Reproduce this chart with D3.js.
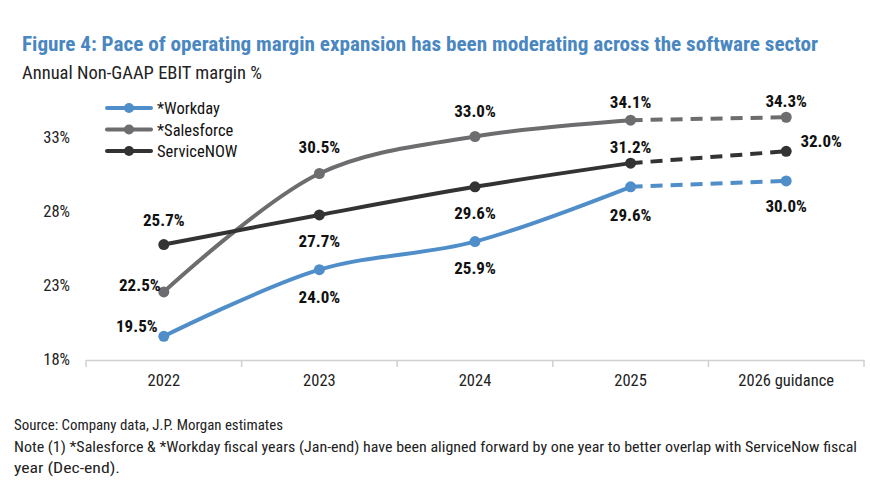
<!DOCTYPE html>
<html><head><meta charset="utf-8">
<script src="https://cdn.jsdelivr.net/npm/d3@7"></script>
<style>
body{margin:0;background:#fff;}
svg{font-family:"Liberation Sans Narrow","Arial Narrow","Roboto Condensed","Liberation Sans",sans-serif;}
</style></head><body>
<svg id="c" width="870" height="488"></svg>
<script>
const categories = ["2022","2023","2024","2025","2026 guidance"];
const workday = [19.5,24.0,25.9,29.6,30.0];
const salesforce = [22.5,30.5,33.0,34.1,34.3];
const servicenow = [25.7,27.7,29.6,31.2,32.0];
const yTicks = [18,23,28,33];
const seriesNames = ["*Workday","*Salesforce","ServiceNOW"];
const colors = ["#4f8ec9","#6d6d6f","#333333"];
// label placement: [dx, dy] relative to point (baseline)
const labelPos = [
  [[-27,-4],[0,33],[0,32],[0,34],[0,31]],
  [[-24,-1],[0,-21],[0,-20],[0,-12],[0,-10]],
  [[0,-19],[0,32],[0,32],[0,-10],[35,-4]]
];

const svg = d3.select("#c");
const x = d3.scaleBand().domain(categories).range([86,864]);
const y = d3.scaleLinear().domain([18,33]).range([358.5,136.5]);
const cx = d => x(d)+x.bandwidth()/2;

svg.append("text").attr("x",22).attr("y",51).attr("fill","#4a87c1")
  .attr("font-weight","bold").attr("font-size",21)
  .attr("textLength",796).attr("lengthAdjust","spacingAndGlyphs")
  .text("Figure 4: Pace of operating margin expansion has been moderating across the software sector");
svg.append("text").attr("x",22).attr("y",79).attr("fill","#222")
  .attr("font-size",17.5).attr("textLength",240).attr("lengthAdjust","spacingAndGlyphs")
  .text("Annual Non-GAAP EBIT margin %");

// y tick labels
svg.selectAll(".yt").data(yTicks).enter().append("text")
  .attr("x",70).attr("y",d=>y(d)+6).attr("text-anchor","end")
  .attr("font-size",16.5).attr("fill","#222").text(d=>d+"%");

// x axis
const xa = svg.append("g").attr("transform","translate(0,360)")
  .call(d3.axisBottom(x).tickSize(0).tickPadding(14));
xa.select(".domain").attr("stroke","#d0d0d0").attr("stroke-width",1.5);
xa.selectAll("text").attr("font-size",16.5).attr("fill","#222")
  .attr("font-family","Liberation Sans Narrow, Arial Narrow, Roboto Condensed, sans-serif");
const bounds = categories.map(c=>x(c)).concat([x.range()[1]]);
svg.selectAll(".xtk").data(bounds).enter().append("line")
  .attr("x1",d=>d).attr("x2",d=>d).attr("y1",360).attr("y2",367)
  .attr("stroke","#d0d0d0").attr("stroke-width",1.5);

const all = [workday,salesforce,servicenow];
const lineSolid = d3.line().x(d=>cx(d.c)).y(d=>y(d.v)).curve(d3.curveCatmullRom.alpha(0.5));
const lineDash = d3.line().x(d=>cx(d.c)).y(d=>y(d.v));

all.forEach((vals,i)=>{
  const pts = vals.map((v,j)=>({c:categories[j],v}));
  svg.append("path").attr("d",lineSolid(pts.slice(0,4))).attr("fill","none")
    .attr("stroke",colors[i]).attr("stroke-width",4).attr("stroke-linecap","round");
  svg.append("path").attr("d",lineDash(pts.slice(3))).attr("fill","none")
    .attr("stroke",colors[i]).attr("stroke-width",4).attr("stroke-dasharray","12,8");
  svg.selectAll(null).data(pts).enter().append("circle")
    .attr("cx",d=>cx(d.c)).attr("cy",d=>y(d.v)).attr("r",5.5).attr("fill",colors[i]);
  svg.selectAll(null).data(pts).enter().append("text")
    .attr("x",(d,j)=>cx(d.c)+labelPos[i][j][0]).attr("y",(d,j)=>y(d.v)+labelPos[i][j][1])
    .attr("text-anchor","middle").attr("font-weight","bold").attr("font-size",17)
    .attr("fill","#111").text(d=>d.v.toFixed(1)+"%");
});

// legend
seriesNames.forEach((n,i)=>{
  const ly = 108 + i*21.5;
  svg.append("line").attr("x1",107).attr("x2",151).attr("y1",ly).attr("y2",ly)
    .attr("stroke",colors[i]).attr("stroke-width",4).attr("stroke-linecap","round");
  svg.append("circle").attr("cx",129).attr("cy",ly).attr("r",5).attr("fill",colors[i]);
  svg.append("text").attr("x",157).attr("y",ly+6).attr("font-size",16.5).attr("fill","#111").text(n);
});

// footer
const foot = ["Source: Company data, J.P. Morgan estimates",
 "Note (1) *Salesforce & *Workday fiscal years (Jan-end) have been aligned forward by one year to better overlap with ServiceNow fiscal",
 "year (Dec-end)."];
const footLen = [269, 843, 106];
foot.forEach((t,i)=>svg.append("text").attr("x",14).attr("y",430+i*21.5)
  .attr("font-size",15).attr("fill","#222")
  .attr("textLength",footLen[i]).attr("lengthAdjust","spacingAndGlyphs").text(t));
</script></body></html>
